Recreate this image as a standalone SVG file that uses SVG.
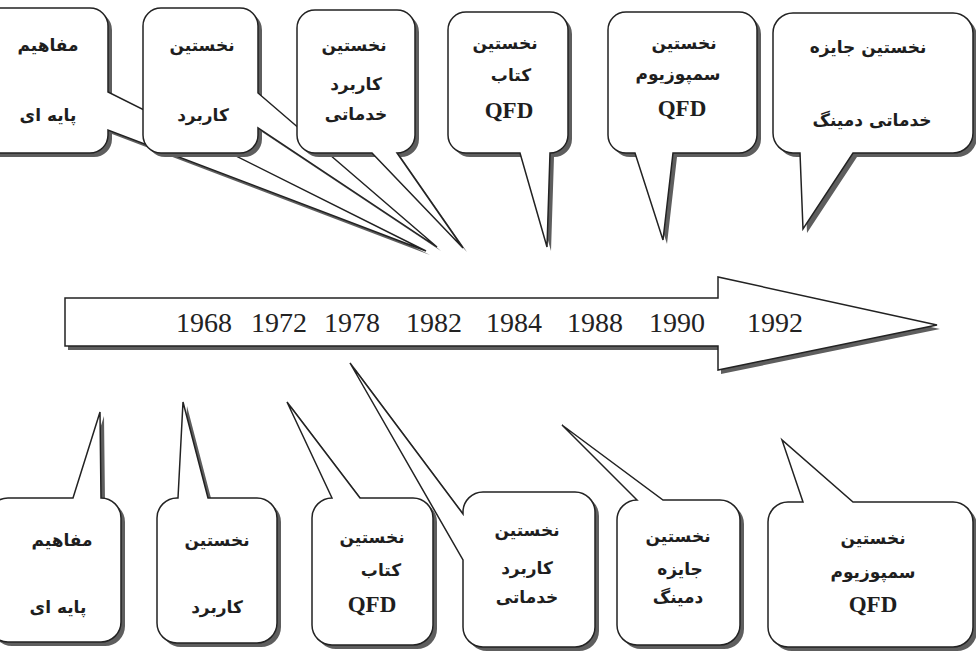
<svg xmlns="http://www.w3.org/2000/svg" width="976" height="651" viewBox="0 0 976 651">
<defs>
<style>
.sh{fill:#5e5e5e;stroke:none}
.bx{fill:#fff;stroke:#222;stroke-width:1.5;stroke-linejoin:miter}
.fa{font-family:"DejaVu Sans","Noto Sans",sans-serif;font-weight:bold;font-size:17px;fill:#1e1e1e;text-anchor:middle}
.q{font-family:"Liberation Serif",serif;font-weight:bold;font-size:23px;fill:#1e1e1e;text-anchor:middle}
.yr{font-family:"Liberation Serif",serif;font-size:28px;fill:#222}
</style>
<path id="t1" d="M -2,8 H 90 A18 18 0 0 1 108,26 V 92 L 426,251 L 108,130 V 135 A18 18 0 0 1 90,153 H -2 A18 18 0 0 1 -20,135 V 26 A18 18 0 0 1 -2,8 Z"/>
<path id="t2" d="M 161,8 H 240 A18 18 0 0 1 258,26 V 93 L 437,247 L 258,128 V 135 A18 18 0 0 1 240,153 H 161 A18 18 0 0 1 143,135 V 26 A18 18 0 0 1 161,8 Z"/>
<path id="t3" d="M 315,10 H 397 A18 18 0 0 1 415,28 V 135 A18 18 0 0 1 397,153 L 463,248 L 372,153 H 315 A18 18 0 0 1 297,135 V 28 A18 18 0 0 1 315,10 Z"/>
<path id="t4" d="M 466,12 H 550 A18 18 0 0 1 568,30 V 135 A18 18 0 0 1 550,153 L 547,247 L 520,153 H 466 A18 18 0 0 1 448,135 V 30 A18 18 0 0 1 466,12 Z"/>
<path id="t5" d="M 626,12 H 739 A18 18 0 0 1 757,30 V 135 A18 18 0 0 1 739,153 H 673 L 663,240 L 635,153 H 626 A18 18 0 0 1 608,135 V 30 A18 18 0 0 1 626,12 Z"/>
<path id="t6" d="M 793,13 H 953 A20 20 0 0 1 973,33 V 133 A20 20 0 0 1 953,153 H 853 L 803,229 L 800,153 H 793 A20 20 0 0 1 773,133 V 33 A20 20 0 0 1 793,13 Z"/>
<path id="b1" d="M 8,498 H 73 L 100,412 L 101,498 A20 20 0 0 1 121,518 V 622 A20 20 0 0 1 101,642 H 8 A20 20 0 0 1 -12,622 V 518 A20 20 0 0 1 8,498 Z"/>
<path id="b2" d="M 177,498 H 178 L 183,402 L 208,498 H 257 A20 20 0 0 1 277,518 V 623 A20 20 0 0 1 257,643 H 177 A20 20 0 0 1 157,623 V 518 A20 20 0 0 1 177,498 Z"/>
<path id="b3" d="M 332,498 L 287,402 L 360,498 H 413 A20 20 0 0 1 433,518 V 625 A20 20 0 0 1 413,645 H 332 A20 20 0 0 1 312,625 V 518 A20 20 0 0 1 332,498 Z"/>
<path id="b4" d="M 483,492 H 575 A20 20 0 0 1 595,512 V 627 A20 20 0 0 1 575,647 H 483 A20 20 0 0 1 463,627 V 560 L 350,363 L 463,514 V 512 A20 20 0 0 1 483,492 Z"/>
<path id="b5" d="M 637,500 L 562,425 L 663,500 H 720 A20 20 0 0 1 740,520 V 625 A20 20 0 0 1 720,645 H 637 A20 20 0 0 1 617,625 V 520 A20 20 0 0 1 637,500 Z"/>
<path id="b6" d="M 788,502 H 803 L 782,440 L 853,502 H 953 A20 20 0 0 1 973,522 V 627 A20 20 0 0 1 953,647 H 788 A20 20 0 0 1 768,627 V 522 A20 20 0 0 1 788,502 Z"/>
</defs>
<rect width="976" height="651" fill="#fff"/>

<g id="timeline">
<polygon class="sh" transform="translate(3,4)" points="65,298 718,298 718,277 937,325 718,370 718,346 65,346"/>
<polygon class="bx" points="65,298 718,298 718,277 937,325 718,370 718,346 65,346"/>
<text class="yr" x="176" y="332">1968</text>
<text class="yr" x="251" y="332">1972</text>
<text class="yr" x="324" y="332">1978</text>
<text class="yr" x="406" y="332">1982</text>
<text class="yr" x="486" y="332">1984</text>
<text class="yr" x="567" y="332">1988</text>
<text class="yr" x="649" y="332">1990</text>
<text class="yr" x="747" y="332">1992</text>
</g>

<g id="connectors"></g>

<g id="top-1968">
<use href="#t1" class="sh" transform="translate(4,4)"/>
<use href="#t1" class="bx"/>
<text class="fa" x="48" y="51">مفاهیم</text>
<text class="fa" x="48" y="121">پایه ای</text>
</g>
<g id="top-1972">
<use href="#t2" class="sh" transform="translate(4,4)"/>
<use href="#t2" class="bx"/>
<text class="fa" x="202" y="51">نخستین</text>
<text class="fa" x="203" y="121">کاربرد</text>
</g>
<g id="top-1978">
<use href="#t3" class="sh" transform="translate(4,4)"/>
<use href="#t3" class="bx"/>
<text class="fa" x="354" y="51">نخستین</text>
<text class="fa" x="356" y="90">کاربرد</text>
<text class="fa" x="356" y="120">خدماتی</text>
</g>
<g id="top-1982">
<use href="#t4" class="sh" transform="translate(4,4)"/>
<use href="#t4" class="bx"/>
<text class="fa" x="505" y="49">نخستین</text>
<text class="fa" x="511" y="81">کتاب</text>
<text class="q" x="509" y="118">QFD</text>
</g>
<g id="top-1984">
<use href="#t5" class="sh" transform="translate(4,4)"/>
<use href="#t5" class="bx"/>
<text class="fa" x="684" y="49">نخستین</text>
<text class="fa" x="678" y="80">سمپوزیوم</text>
<text class="q" x="682" y="116">QFD</text>
</g>
<g id="top-1988">
<use href="#t6" class="sh" transform="translate(4,4)"/>
<use href="#t6" class="bx"/>
<text class="fa" x="868" y="53">نخستین جایزه</text>
<text class="fa" x="872" y="126">خدماتی دمینگ</text>
</g>

<g id="bottom-1968">
<use href="#b1" class="sh" transform="translate(4,4)"/>
<use href="#b1" class="bx"/>
<text class="fa" x="62" y="546">مفاهیم</text>
<text class="fa" x="58" y="613">پایه ای</text>
</g>
<g id="bottom-1972">
<use href="#b2" class="sh" transform="translate(4,4)"/>
<use href="#b2" class="bx"/>
<text class="fa" x="217" y="546">نخستین</text>
<text class="fa" x="217" y="613">کاربرد</text>
</g>
<g id="bottom-1978">
<use href="#b3" class="sh" transform="translate(4,4)"/>
<use href="#b3" class="bx"/>
<text class="fa" x="372" y="543">نخستین</text>
<text class="fa" x="381" y="576">کتاب</text>
<text class="q" x="372" y="612">QFD</text>
</g>
<g id="bottom-1982">
<use href="#b4" class="sh" transform="translate(4,4)"/>
<use href="#b4" class="bx"/>
<text class="fa" x="527" y="536">نخستین</text>
<text class="fa" x="527" y="574">کاربرد</text>
<text class="fa" x="527" y="603">خدماتی</text>
</g>
<g id="bottom-1988">
<use href="#b5" class="sh" transform="translate(4,4)"/>
<use href="#b5" class="bx"/>
<text class="fa" x="678" y="542">نخستین</text>
<text class="fa" x="680" y="575">جایزه</text>
<text class="fa" x="678" y="603">دمینگ</text>
</g>
<g id="bottom-1990">
<use href="#b6" class="sh" transform="translate(4,4)"/>
<use href="#b6" class="bx"/>
<text class="fa" x="873" y="544">نخستین</text>
<text class="fa" x="873" y="578">سمپوزیوم</text>
<text class="q" x="873" y="612">QFD</text>
</g>
</svg>
